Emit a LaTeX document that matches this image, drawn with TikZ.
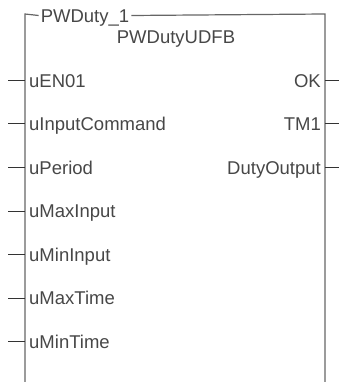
\documentclass[tikz,border=0pt]{standalone}
\usepackage{fontspec}
\setmainfont{Liberation Sans}
\usepackage{xcolor}
\usetikzlibrary{positioning}

\begin{document}
\begin{tikzpicture}[
    x=1pt, y=-1pt,
    font=\fontsize{18.5}{20}\selectfont,
    frame/.style={draw=black!60, line width=1.2pt},
    wire/.style={draw=black!80, line width=1pt},
    lbl/.style={inner xsep=4pt, inner ysep=0pt, text height=13.3pt,
                text depth=0pt, text=black!72},
    inpin/.style={lbl, anchor=west},
    outpin/.style={lbl, anchor=east},
]
\useasboundingbox (0,0) rectangle (339,382);

% ── Block frame ──────────────────────────────────────────────
\coordinate (topL) at (25,14);
\coordinate (topR) at (325,14);
\coordinate (botL) at (25,382);
\coordinate (botR) at (325,382);

\node[lbl, inner xsep=2pt] (inst) at (85,15.5) {PWDuty\_1};
\node[lbl] (fbtype) at (176,36.6) {PWDutyUDFB};

\draw[frame] (botL) -- (topL) -- (inst.west);
\draw[frame] (inst.east) -- (topR) -- (botR);

% ── Inputs ───────────────────────────────────────────────────
\node[inpin] (uEN01)    at (25,80.5)  {uEN01};
\node[inpin] (uInCmd)   at (25,124)   {uInputCommand};
\node[inpin] (uPeriod)  at (25,167.5) {uPeriod};
\node[inpin] (uMaxIn)   at (25,211)   {uMaxInput};
\node[inpin] (uMinIn)   at (25,254.5) {uMinInput};
\node[inpin] (uMaxTime) at (25,298)   {uMaxTime};
\node[inpin] (uMinTime) at (25,341.5) {uMinTime};

\coordinate (wEN01)    at (8,80.5);
\coordinate (wInCmd)   at (8,124);
\coordinate (wPeriod)  at (8,167.5);
\coordinate (wMaxIn)   at (8,211);
\coordinate (wMinIn)   at (8,254.5);
\coordinate (wMaxTime) at (8,298);
\coordinate (wMinTime) at (8,341.5);

\draw[wire] (wEN01) -- (uEN01.west);
\draw[wire] (wInCmd) -- (uInCmd.west);
\draw[wire] (wPeriod) -- (uPeriod.west);
\draw[wire] (wMaxIn) -- (uMaxIn.west);
\draw[wire] (wMinIn) -- (uMinIn.west);
\draw[wire] (wMaxTime) -- (uMaxTime.west);
\draw[wire] (wMinTime) -- (uMinTime.west);

% ── Outputs ──────────────────────────────────────────────────
\node[outpin] (OK)    at (325,80.5)  {OK};
\node[outpin] (TM1)   at (325,124)   {TM1};
\node[outpin] (DutyO) at (325,167.5) {DutyOutput};

\coordinate (wOK)    at (339,80.5);
\coordinate (wTM1)   at (339,124);
\coordinate (wDutyO) at (339,167.5);

\draw[wire] (OK.east) -- (wOK);
\draw[wire] (TM1.east) -- (wTM1);
\draw[wire] (DutyO.east) -- (wDutyO);

\end{tikzpicture}
\end{document}
